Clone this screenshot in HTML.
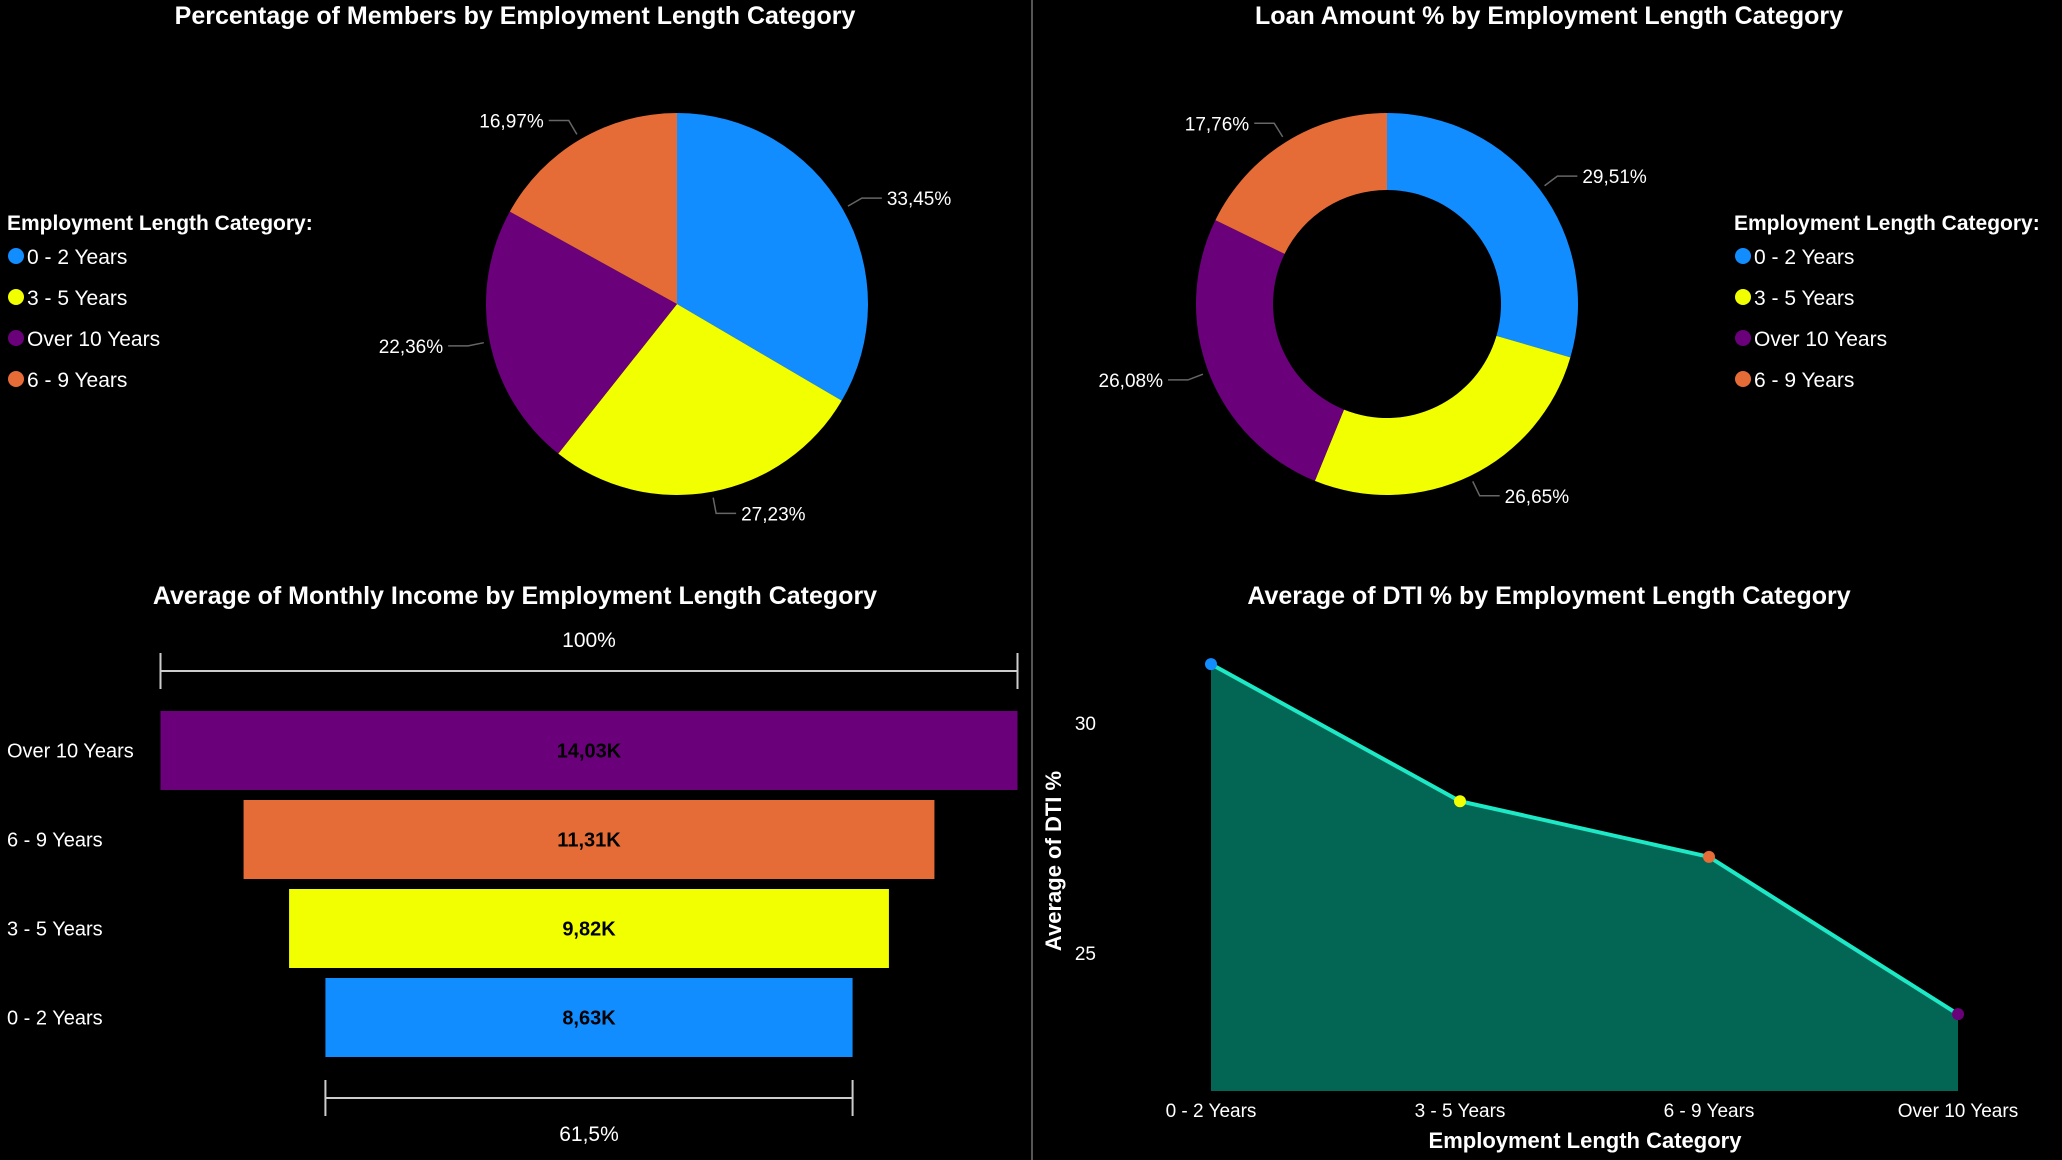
<!DOCTYPE html>
<html><head><meta charset="utf-8"><style>
html,body{margin:0;padding:0;background:#000;}
svg{display:block;font-family:"Liberation Sans",sans-serif;}
</style></head><body>
<svg id="s" width="2062" height="1160" viewBox="0 0 2062 1160" xmlns="http://www.w3.org/2000/svg">
<rect width="2062" height="1160" fill="#000"/>
<line x1="1032" y1="0" x2="1032" y2="1160" stroke="#555" stroke-width="2"/>
<g fill="#fff" font-weight="bold" font-size="25" text-anchor="middle">
<text x="515" y="24">Percentage of Members by Employment Length Category</text>
<text x="1549" y="24">Loan Amount % by Employment Length Category</text>
<text x="515" y="604">Average of Monthly Income by Employment Length Category</text>
<text x="1549" y="604">Average of DTI % by Employment Length Category</text>
</g>
<g id="pies"></g>
<g id="funnel"></g>
<g id="area"></g>
</svg>
<script>
const NS="http://www.w3.org/2000/svg";
const legendCats=["0 - 2 Years","3 - 5 Years","Over 10 Years","6 - 9 Years"];
const colorMap={"0 - 2 Years":"#118dff","3 - 5 Years":"#f2ff00","Over 10 Years":"#6b007b","6 - 9 Years":"#e66c37"};
const memberValues=[33.45,27.23,22.36,16.97];
const memberLabels=["33,45%","27,23%","22,36%","16,97%"];
const loanValues=[29.51,26.65,26.08,17.76];
const loanLabels=["29,51%","26,65%","26,08%","17,76%"];
const funnelCats=["Over 10 Years","6 - 9 Years","3 - 5 Years","0 - 2 Years"];
const incomeValues=[14.03,11.31,9.82,8.63];
const incomeLabels=["14,03K","11,31K","9,82K","8,63K"];
const dtiCats=["0 - 2 Years","3 - 5 Years","6 - 9 Years","Over 10 Years"];
const dtiValues=[31.28,28.3,27.09,23.67];
const dtiTicks=[25,30];

function el(tag,attrs,parent,txt){const e=document.createElementNS(NS,tag);for(const k in attrs)e.setAttribute(k,attrs[k]);if(txt!==undefined)e.textContent=txt;parent.appendChild(e);return e;}

function pie(g,cx,cy,R,r,vals,labels,legendX,name){
  const tot=vals.reduce((a,b)=>a+b,0);let a0=0;
  vals.forEach((v,i)=>{
    const a1=a0+v/tot*2*Math.PI;
    const p=(a,rr)=>[cx+rr*Math.sin(a),cy-rr*Math.cos(a)];
    const large=(a1-a0)>Math.PI?1:0;
    const [x0,y0]=p(a0,R),[x1,y1]=p(a1,R);
    let d=`M${x0},${y0}A${R},${R} 0 ${large} 1 ${x1},${y1}`;
    if(r>0){const [x2,y2]=p(a1,r),[x3,y3]=p(a0,r);d+=`L${x2},${y2}A${r},${r} 0 ${large} 0 ${x3},${y3}Z`;}
    else d+=`L${cx},${cy}Z`;
    const s=el('path',{d:d,fill:colorMap[legendCats[i]]},g);
    
    
    const am=(a0+a1)/2;const [lx,ly]=p(am,R+6);const [mx,my]=p(am,R+22);
    const right=Math.sin(am)>=0;const ex=mx+(right?20:-20);
    const ln=el('polyline',{points:`${lx},${ly} ${mx},${my} ${ex},${my}`,fill:'none',stroke:'#666','stroke-width':1.5},g);
    
    
    const t=el('text',{x:ex+(right?5:-5),y:my+7,fill:'#fff','font-size':19,'text-anchor':right?'start':'end'},g,labels[i]);
    
    
    a0=a1;
  });
  const lt=el('text',{x:legendX,y:230,fill:'#fff','font-size':21,'font-weight':'bold'},g,'Employment Length Category:');
  
  
  legendCats.forEach((c,i)=>{
    const y=257+i*41;
    const d=el('circle',{cx:legendX+9,cy:y-1,r:8,fill:colorMap[c]},g);
    
    
    const t=el('text',{x:legendX+20,y:y+7,fill:'#fff','font-size':21},g,c);
    
    
  });
}
const pg=document.getElementById('pies');
pie(pg,677,304,191,0,memberValues,memberLabels,7,'members-pie');
pie(pg,1387,304,191,114,loanValues,loanLabels,1734,'loan-donut');

// funnel
const fg=document.getElementById('funnel');
const fcx=589,fmaxW=857,ftop=711,fstep=89,fh=79;
const maxV=Math.max(...incomeValues);
const wOf=v=>v/maxV*fmaxW;
function bracket(x1,x2,y,name){
  const g=el('g',{stroke:'#ccc','stroke-width':2},fg);
  
  
  el('line',{x1:x1,y1:y,x2:x2,y2:y},g);el('line',{x1:x1,y1:y-18,x2:x1,y2:y+18},g);el('line',{x1:x2,y1:y-18,x2:x2,y2:y+18},g);
}
bracket(fcx-wOf(incomeValues[0])/2,fcx+wOf(incomeValues[0])/2,671,'funnel-top-bracket');
const tp=el('text',{x:fcx,y:647,fill:'#fff','font-size':21,'text-anchor':'middle'},fg,'100%');


incomeValues.forEach((v,i)=>{
  const w=wOf(v),y=ftop+i*fstep;
  const r=el('rect',{x:fcx-w/2,y:y,width:w,height:fh,fill:colorMap[funnelCats[i]]},fg);
  
  
  const t=el('text',{x:fcx,y:y+fh/2+7,fill:'#000','font-size':20,'font-weight':'bold','text-anchor':'middle'},fg,incomeLabels[i]);
  
  
  const c=el('text',{x:7,y:y+fh/2+7,fill:'#fff','font-size':20},fg,funnelCats[i]);
  
  
});
const last=incomeValues[incomeValues.length-1];
bracket(fcx-wOf(last)/2,fcx+wOf(last)/2,1098,'funnel-bottom-bracket');
const bp=el('text',{x:fcx,y:1141,fill:'#fff','font-size':21,'text-anchor':'middle'},fg,(last/maxV*100).toFixed(1).replace('.',',')+'%');



// area
const ag=document.getElementById('area');
const xL=1211,xR=1958,yMin=22,yMax=32;
const yAt=v=>953-(v-25)*46;
const xAt=i=>xL+i*(xR-xL)/(dtiCats.length-1);
const base=1091;
let pts=dtiValues.map((v,i)=>xAt(i)+','+yAt(v)).join(' ');
const ar=el('polygon',{points:`${xAt(0)},${base} ${pts} ${xAt(dtiValues.length-1)},${base}`,fill:'#036654'},ag);


const pl=el('polyline',{points:pts,fill:'none',stroke:'#1de9c6','stroke-width':4},ag);


dtiValues.forEach((v,i)=>{
  const c=el('circle',{cx:xAt(i),cy:yAt(v),r:6,fill:colorMap[dtiCats[i]]},ag);
  
  
  const t=el('text',{x:xAt(i),y:1117,fill:'#fff','font-size':19,'text-anchor':'middle'},ag,dtiCats[i]);
  
  
});
dtiTicks.forEach((v,i)=>{
  const t=el('text',{x:1096,y:yAt(v)+7,fill:'#fff','font-size':19,'text-anchor':'end'},ag,v);
  
  
});
const xt=el('text',{x:1585,y:1148,fill:'#fff','font-size':22,'font-weight':'bold','text-anchor':'middle'},ag,'Employment Length Category');


const yt=el('text',{x:1061,y:861,fill:'#fff','font-size':22,'font-weight':'bold','text-anchor':'middle',transform:'rotate(-90 1061 861)'},ag,'Average of DTI %');


</script>
</body></html>
